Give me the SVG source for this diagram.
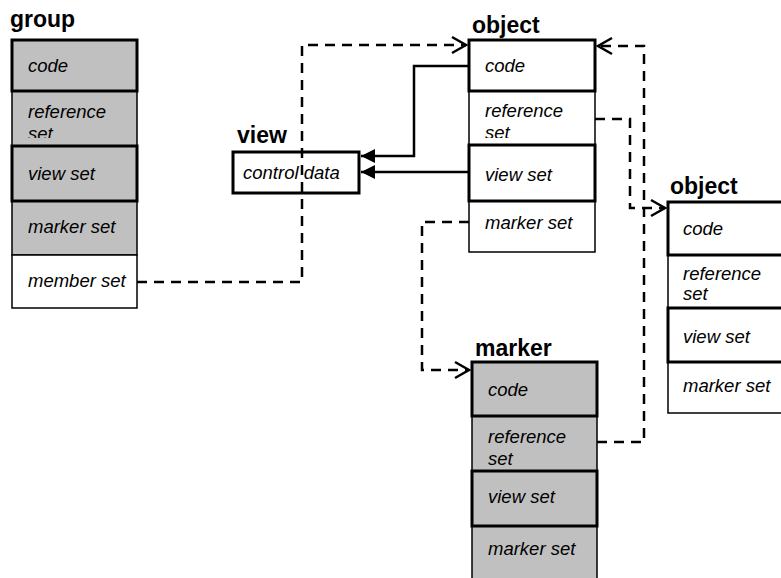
<svg xmlns="http://www.w3.org/2000/svg" width="781" height="578" viewBox="0 0 781 578">
<style>
.title{font-family:"Liberation Sans",Arial,sans-serif;font-weight:bold;font-size:23px;fill:#000}
.lbl{font-family:"Liberation Sans",Arial,sans-serif;font-style:italic;font-size:18.5px;fill:#000}
.thin{stroke:#000;stroke-width:1.5}
.thick{stroke:#000;stroke-width:3}
.g{fill:#c0c0c0}
.w{fill:#fff}
.dash{fill:none;stroke:#000;stroke-width:2.5;stroke-dasharray:10 7}
.solid{fill:none;stroke:#000;stroke-width:2.5}
</style>
<defs>
<marker id="open" markerUnits="userSpaceOnUse" viewBox="-16 -10 18 20" refX="0" refY="0" markerWidth="18" markerHeight="20" orient="auto" overflow="visible">
<path d="M-14,-8 L0,0 L-14,8" fill="none" stroke="#000" stroke-width="2.5"/>
</marker>
<marker id="filled" markerUnits="userSpaceOnUse" viewBox="-15 -8 16 16" refX="0" refY="0" markerWidth="16" markerHeight="16" orient="auto" overflow="visible">
<path d="M-14,-7 L0,0 L-14,7 Z" fill="#000"/>
</marker>
<clipPath id="clipG"><rect x="12" y="91" width="125" height="47"/></clipPath>
<clipPath id="clipO1"><rect x="469" y="91" width="126" height="47"/></clipPath>
</defs>

<g id="group">
<text class="title" x="10" y="27">group</text>
<rect class="g thin" x="12" y="91" width="125" height="55"/>
<rect class="g thin" x="12" y="201" width="125" height="54"/>
<rect class="w thin" x="12" y="255" width="125" height="53"/>
<rect class="g thick" x="12" y="40" width="125" height="51"/>
<rect class="g thick" x="12" y="146" width="125" height="55"/>
<text class="lbl" x="28" y="72">code</text>
<g clip-path="url(#clipG)"><text class="lbl" x="28" y="118">reference</text><text class="lbl" x="28" y="140">set</text></g>
<text class="lbl" x="28" y="180">view set</text>
<text class="lbl" x="28" y="233">marker set</text>
<text class="lbl" x="28" y="287">member set</text>
</g>

<g id="view">
<text class="title" x="237" y="143">view</text>
<rect class="w thick" x="233" y="152" width="126" height="41"/>
<text class="lbl" x="243" y="179">control data</text>
</g>

<g id="object1">
<text class="title" x="472" y="33">object</text>
<rect class="w thin" x="469" y="91" width="126" height="54"/>
<rect class="w thin" x="469" y="201" width="126" height="51"/>
<rect class="w thick" x="469" y="40" width="126" height="51"/>
<rect class="w thick" x="469" y="145" width="126" height="56"/>
<text class="lbl" x="485" y="72">code</text>
<g clip-path="url(#clipO1)"><text class="lbl" x="485" y="117">reference</text><text class="lbl" x="485" y="139">set</text></g>
<text class="lbl" x="485" y="181">view set</text>
<text class="lbl" x="485" y="229">marker set</text>
</g>

<g id="object2">
<text class="title" x="670" y="194">object</text>
<rect class="w thin" x="668" y="255" width="126" height="53"/>
<rect class="w thin" x="668" y="362" width="126" height="51"/>
<rect class="w thick" x="668" y="202" width="126" height="53"/>
<rect class="w thick" x="668" y="308" width="126" height="54"/>
<text class="lbl" x="683" y="235">code</text>
<text class="lbl" x="683" y="280">reference</text>
<text class="lbl" x="683" y="300">set</text>
<text class="lbl" x="683" y="343">view set</text>
<text class="lbl" x="683" y="392">marker set</text>
</g>

<g id="marker">
<text class="title" x="475" y="356">marker</text>
<rect class="g thin" x="472" y="416" width="125" height="55"/>
<rect class="g thin" x="472" y="526" width="125" height="56"/>
<rect class="g thick" x="472" y="362" width="125" height="54"/>
<rect class="g thick" x="472" y="471" width="125" height="55"/>
<text class="lbl" x="488" y="396">code</text>
<text class="lbl" x="488" y="443">reference</text>
<text class="lbl" x="488" y="465">set</text>
<text class="lbl" x="488" y="503">view set</text>
<text class="lbl" x="488" y="555">marker set</text>
</g>

<g id="connectors">
<path class="dash" d="M137,282 H302 V45 H466" marker-end="url(#open)"/>
<path class="solid" d="M469,66 H414 V156 H361" marker-end="url(#filled)"/>
<path class="solid" d="M469,172 H361" marker-end="url(#filled)"/>
<path class="dash" d="M469,222 H422 V370 H469" marker-end="url(#open)"/>
<path class="dash" d="M595,119 H630 V208 H665" marker-end="url(#open)"/>
<path class="dash" d="M597,442 H644 V46 H598" marker-end="url(#open)"/>
</g>
</svg>
